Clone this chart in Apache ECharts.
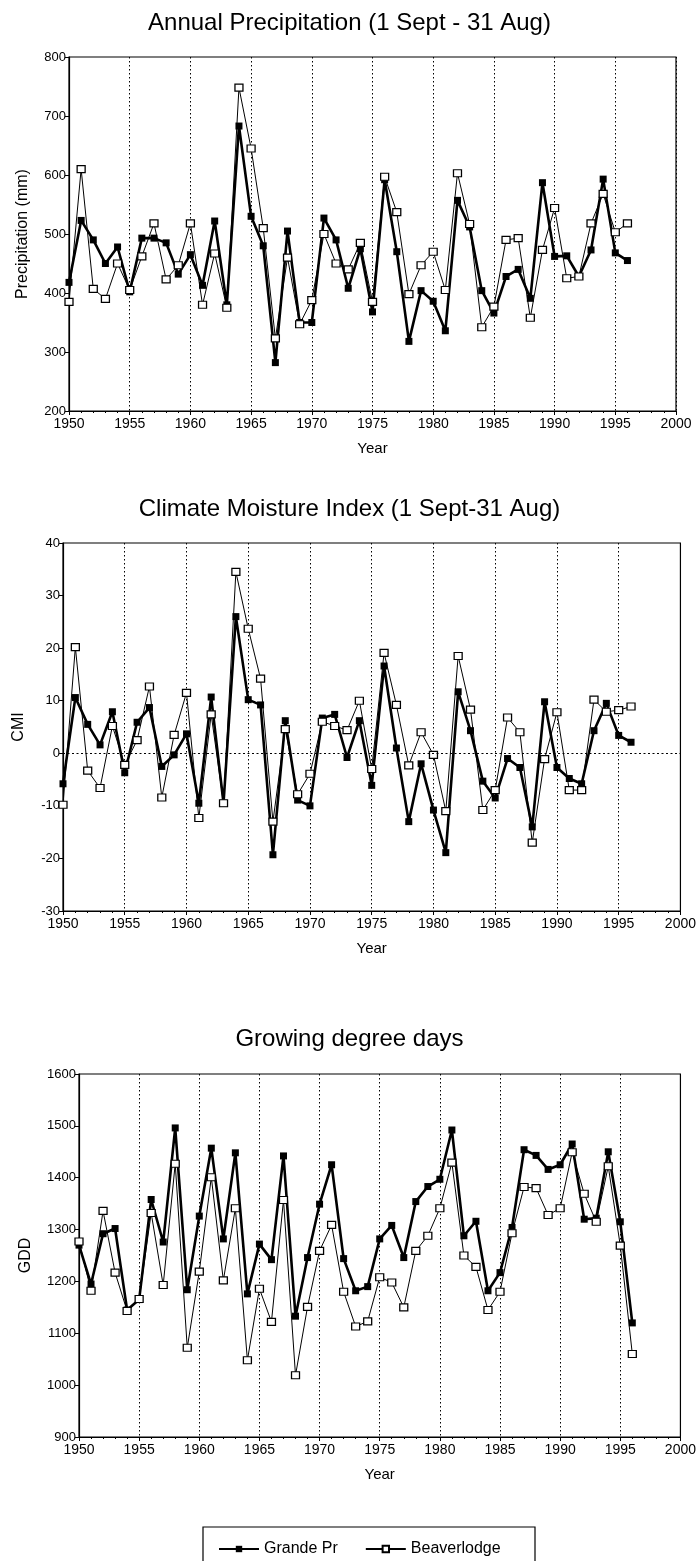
<!DOCTYPE html>
<html>
<head>
<meta charset="utf-8">
<script src="https://cdn.jsdelivr.net/npm/echarts@6/dist/echarts.min.js"></script>
<style>
html,body{margin:0;padding:0;background:#fff;}
#c{width:699px;height:1561px;}
</style>
</head>
<body>
<div id="c"></div>
<script>
const years = [1950,1951,1952,1953,1954,1955,1956,1957,1958,1959,1960,1961,1962,1963,1964,1965,1966,1967,1968,1969,1970,1971,1972,1973,1974,1975,1976,1977,1978,1979,1980,1981,1982,1983,1984,1985,1986,1987,1988,1989,1990,1991,1992,1993,1994,1995,1996];

const precipGrande = [418,523,490,450,478,402,493,493,485,432,465,413,522,380,683,530,480,282,505,350,350,527,490,408,475,368,592,470,318,404,386,336,557,512,404,366,428,440,391,587,462,463,428,473,593,468,455];
const precipBeaver = [385,610,407,390,450,405,462,518,423,447,518,380,467,375,748,645,510,323,460,347,388,500,450,440,485,385,597,537,398,447,470,405,603,517,342,377,490,493,358,473,544,425,428,518,568,503,518];

const cmiGrande = [-5.8,10.6,5.5,1.6,7.9,-3.7,5.9,8.7,-2.5,-0.3,3.7,-9.5,10.7,-9.5,26,10.2,9.2,-19.3,6.2,-8.9,-10,6.7,7.4,-0.8,6.2,-6.1,16.6,1,-13,-2,-10.8,-18.9,11.7,4.3,-5.3,-8.5,-1,-2.7,-14,9.8,-2.7,-4.8,-5.8,4.3,9.5,3.4,2.1];
const cmiBeaver = [-9.8,20.2,-3.3,-6.6,5.2,-2.2,2.5,12.7,-8.4,3.5,11.5,-12.3,7.4,-9.5,34.5,23.7,14.2,-13,4.6,-7.8,-3.9,6,5.2,4.4,10,-3,19.1,9.2,-2.3,4,-0.3,-11,18.5,8.3,-10.8,-7,6.8,4,-17,-1.1,7.8,-7,-7,10.2,7.9,8.2,8.9];

const gddGrande = [1270,1195,1292,1302,1145,1165,1358,1276,1496,1184,1326,1457,1282,1448,1176,1272,1242,1442,1133,1246,1349,1425,1244,1182,1190,1282,1308,1246,1354,1383,1397,1492,1288,1316,1182,1217,1304,1454,1443,1416,1425,1465,1320,1322,1450,1315,1120];
const gddBeaver = [1277,1182,1336,1217,1143,1166,1332,1193,1427,1072,1219,1401,1202,1341,1048,1186,1122,1357,1019,1151,1259,1309,1180,1113,1123,1208,1198,1150,1259,1288,1341,1429,1250,1228,1145,1180,1293,1382,1380,1328,1341,1449,1369,1315,1422,1269,1060];

const seriesNames = ['Grande Pr','Beaverlodge'];
const titles = ['Annual Precipitation (1 Sept - 31 Aug)','Climate Moisture Index (1 Sept-31 Aug)','Growing degree days'];
const yNames = ['Precipitation (mm)','CMI','GDD'];
const xName = 'Year';
const yRanges = [[200,800,100],[-30,40,10],[900,1600,100]];
const xRange = [1950,2000,5];

function pairs(vals){ return years.map((y,i)=>[y,vals[i]]); }

const FONT = 'Liberation Sans, Arial, Helvetica, sans-serif';

const grids = [
  {left:69, right:23, top:57, height:354},
  {left:63, right:10, top:543, height:368},
  {left:79, right:10, top:1074, height:363}
];
const titleTops = [6, 492, 1022];
const yNameGaps = [38, 36, 45];
const plain = v => String(v);

const chart = echarts.init(document.getElementById('c'), null, {renderer:'canvas'});

const xAxes = grids.map((g,i)=>({
  type:'value', gridIndex:i, min:xRange[0], max:xRange[1], interval:xRange[2],
  name:xName, nameLocation:'middle', nameGap:30,
  nameTextStyle:{fontFamily:FONT, fontSize:15, color:'#000'},
  axisLine:{show:true, onZero:false, lineStyle:{color:'#000', width:1.2}},
  axisTick:{show:true, length:4, lineStyle:{color:'#000'}},
  minorTick:{show:true, splitNumber:5, length:2, lineStyle:{color:'#000'}},
  axisLabel:{fontFamily:FONT, fontSize:14, color:'#000', margin:6, formatter:plain},
  splitLine:{show:true, lineStyle:{color:'#000', type:[1.5,2.5], width:1}}
}));

const yAxes = grids.map((g,i)=>({
  type:'value', gridIndex:i, min:yRanges[i][0], max:yRanges[i][1], interval:yRanges[i][2],
  name:yNames[i], nameLocation:'middle', nameGap:yNameGaps[i], nameRotate:90,
  nameTextStyle:{fontFamily:FONT, fontSize:16, color:'#000'},
  axisLine:{show:true, onZero:false, lineStyle:{color:'#000', width:1.2}},
  axisTick:{show:true, length:4, lineStyle:{color:'#000'}},
  axisLabel:{fontFamily:FONT, fontSize:13, color:'#000', margin:3, formatter:plain},
  splitLine:{show:false}
}));

const dataSets = [[precipGrande,precipBeaver],[cmiGrande,cmiBeaver],[gddGrande,gddBeaver]];

const series = [];
dataSets.forEach((pair,i)=>{
  series.push({
    name:seriesNames[0], type:'line', xAxisIndex:i, yAxisIndex:i,
    data:pairs(pair[0]), symbol:'rect', symbolSize:7, showAllSymbol:true,
    lineStyle:{color:'#000', width:2.6}, itemStyle:{color:'#000'}, z:2,
    markLine: i===1 ? {silent:true, symbol:'none', label:{show:false},
      lineStyle:{color:'#000', type:[2,2.5], width:1.2}, data:[{yAxis:0}]} : undefined
  });
  series.push({
    name:seriesNames[1], type:'line', xAxisIndex:i, yAxisIndex:i,
    data:pairs(pair[1]), symbol:'rect', symbolSize:[8,7], showAllSymbol:true,
    lineStyle:{color:'#000', width:1}, itemStyle:{color:'#fff', borderColor:'#000', borderWidth:1.2}, z:3
  });
});

chart.setOption({
  animation:false,
  backgroundColor:'#fff',
  title: titles.map((t,i)=>({text:t, left:'center', top:titleTops[i],
    textStyle:{fontFamily:FONT, fontSize:24, fontWeight:'normal', color:'#000'}})),
  grid: grids.map(g=>Object.assign({show:true, borderColor:'#000', borderWidth:1.2, backgroundColor:'transparent'}, g)),
  xAxis:xAxes,
  yAxis:yAxes,
  legend:{data:seriesNames, left:213, top:1536, itemWidth:40, itemHeight:8, itemGap:27,
    textStyle:{fontFamily:FONT, fontSize:16, color:'#000'}},
  graphic:[{type:'rect', shape:{x:203, y:1527, width:332, height:60},
    style:{fill:'none', stroke:'#000', lineWidth:1.2}}],
  series:series
});
</script>
</body>
</html>
